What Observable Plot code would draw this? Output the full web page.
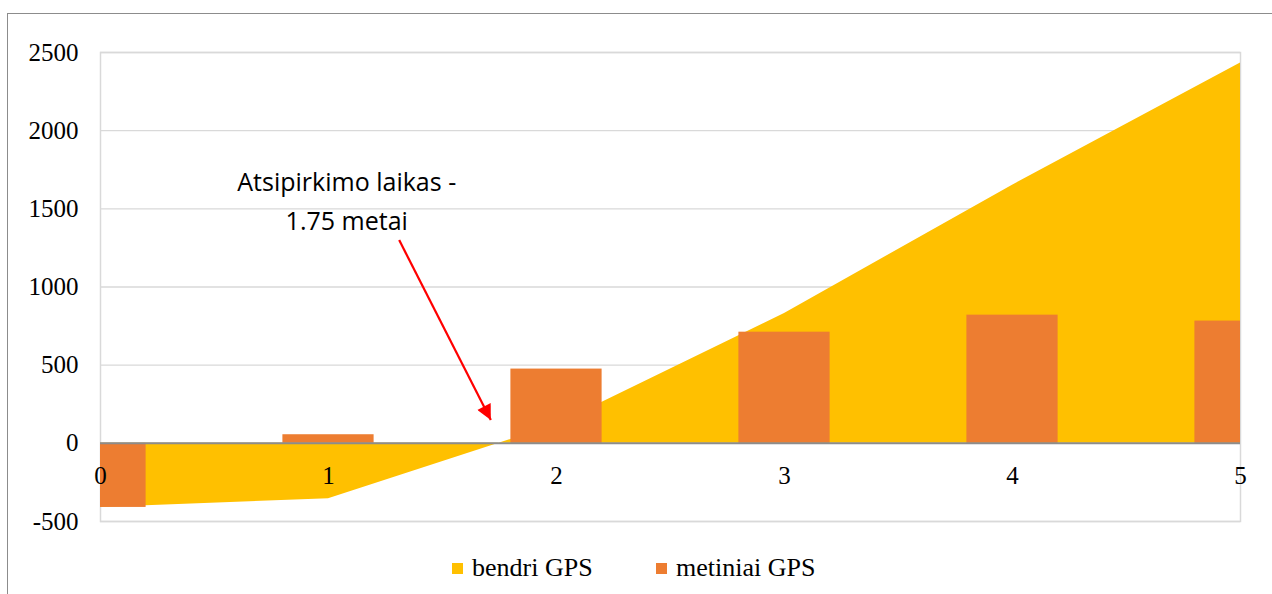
<!DOCTYPE html>
<html>
<head>
<meta charset="utf-8">
<script src="https://cdn.jsdelivr.net/npm/d3@7"></script>
<script src="https://cdn.jsdelivr.net/npm/@observablehq/plot@0.6"></script>
<style>
  html, body { margin: 0; padding: 0; background: #fff; }
  body { width: 1272px; height: 594px; overflow: hidden; position: relative; }
  #frame { position: absolute; left: 7px; top: 13px; width: 1300px; height: 700px;
           border-left: 1px solid #8c8c8c; border-top: 1px solid #8c8c8c; }
  #chart { position: absolute; left: 0; top: 0; }
  #legend { position: absolute; left: 0; top: 550px; width: 1272px; height: 36px;
            font-family: "Liberation Serif", "Times New Roman", serif; font-size: 26px; color: #000; }
  .item { position: absolute; top: 0; display: flex; align-items: center; height: 36px; }
  .sw { width: 11px; height: 11px; margin-right: 9px; }
</style>
</head>
<body>
<div id="frame"></div>
<div id="chart"></div>
<div id="legend"></div>
<script>
// Data
const years = [0, 1, 2, 3, 4, 5];
const annual = [-410, 55, 475, 711, 820, 782];           // metiniai GPS
const cumulative = [-410, -355, 120, 831, 1651, 2433];   // bendri GPS
const yTicks = [-500, 0, 500, 1000, 1500, 2000, 2500];
const seriesNames = ["bendri GPS", "metiniai GPS"];
const seriesColors = ["#FFC000", "#ED7D31"];
const annotationLines = ["Atsipirkimo laikas -", "1.75 metai"];
const annotationTextPos = [{x: 1.08, y: 1667}, {x: 1.08, y: 1417}];
const arrowFrom = {x: 1.31, y: 1300};
const arrowTo = {x: 1.712, y: 150};
const barHalfWidth = 0.2;

const cumData = years.map((x, i) => ({x, y: cumulative[i]}));
const barData = years.map((x, i) => ({x, y: annual[i]}));
const annData = annotationLines.map((t, i) => ({...annotationTextPos[i], t}));

const plot = Plot.plot({
  width: 1272,
  height: 540,
  marginLeft: 100,
  marginRight: 32,
  marginTop: 52,
  marginBottom: 19,
  style: {background: "transparent", overflow: "visible"},
  x: {domain: [0, 5], axis: null},
  y: {domain: [-500, 2500]},
  marks: [
    Plot.gridY(yTicks, {stroke: "#d9d9d9", strokeOpacity: 1, strokeWidth: 1.3}),
    Plot.frame({stroke: "#d9d9d9", strokeWidth: 1.5}),
    Plot.areaY(cumData, {x: "x", y: "y", fill: seriesColors[0]}),
    Plot.rectY(barData, {x1: d => d.x - barHalfWidth, x2: d => d.x + barHalfWidth, y: "y", fill: seriesColors[1], clip: true}),
    Plot.ruleY([0], {stroke: "#8c8c8c", strokeWidth: 2}),
    Plot.axisY(yTicks, {tickSize: 0, tickPadding: 22, tickFormat: d => String(d),
      fontSize: 25, fontFamily: "Liberation Serif, Times New Roman, serif", fill: "#000", label: null}),
    Plot.text(years, {x: d => d, y: 0, dy: 33, text: d => String(d), fontSize: 25,
      fontFamily: "Liberation Serif, Times New Roman, serif", fill: "#000"}),
    Plot.text(annData, {x: "x", y: "y", text: "t", fontSize: 25, fontFamily: "Open Sans, sans-serif", fill: "#000"}),
    Plot.link([{x1: arrowFrom.x, y1: arrowFrom.y, x2: arrowTo.x, y2: arrowTo.y}],
      {x1: "x1", y1: "y1", x2: "x2", y2: "y2", stroke: "#ff0000", strokeWidth: 2.2, className: "ann-arrow"})
  ]
});
document.getElementById("chart").appendChild(plot);

// Filled arrowhead marker for the annotation arrow
const svg = d3.select(plot);
const defs = svg.insert("defs", ":first-child");
defs.append("marker")
  .attr("id", "ann-head")
  .attr("viewBox", "0 0 10 10")
  .attr("refX", 10).attr("refY", 5)
  .attr("markerUnits", "userSpaceOnUse")
  .attr("markerWidth", 17).attr("markerHeight", 15)
  .attr("orient", "auto")
  .append("path").attr("d", "M0,0L10,5L0,10Z").attr("fill", "#ff0000");
svg.selectAll(".ann-arrow path, path.ann-arrow").attr("marker-end", "url(#ann-head)");

// Legend
const legend = document.getElementById("legend");
const lefts = [452, 656];
seriesNames.forEach((n, i) => {
  const it = document.createElement("div");
  it.className = "item";
  it.style.left = lefts[i] + "px";
  const sw = document.createElement("div");
  sw.className = "sw";
  sw.style.background = seriesColors[i];
  const tx = document.createElement("span");
  tx.textContent = n;
  it.appendChild(sw); it.appendChild(tx);
  legend.appendChild(it);
});
</script>
</body>
</html>
